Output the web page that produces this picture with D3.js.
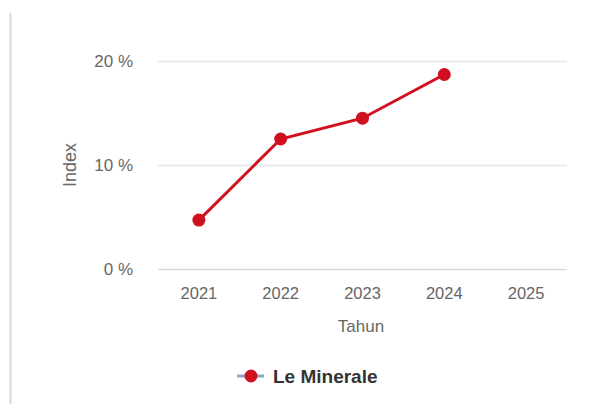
<!DOCTYPE html>
<html>
<head>
<meta charset="utf-8">
<script src="https://cdn.jsdelivr.net/npm/d3@7"></script>
<style>
  body { margin: 0; background: #fff; font-family: "Liberation Sans", Arial, sans-serif; }
</style>
</head>
<body>
<svg id="chart" width="598" height="404"></svg>
<script>
// values
const years = ["2021", "2022", "2023", "2024", "2025"]
const values = [4.7, 12.5, 14.5, 18.7, null]
const yTicks = [0, 10, 20]
const seriesName = "Le Minerale"

const svg = d3.select("#chart")
const red = "#d0101e"

const x = d3.scaleBand().domain(years).range([158, 567])
const y = d3.scaleLinear().domain([0, 20]).range([269, 61])

// left frame line
svg.append("line")
    .attr("x1", 10.5).attr("x2", 10.5)
    .attr("y1", 13).attr("y2", 404)
    .attr("stroke", "#d9d9d9").attr("stroke-width", 2)

// grid
svg.append("g").selectAll("line")
    .data(yTicks)
    .join("line")
    .attr("x1", 158).attr("x2", 567)
    .attr("y1", d => Math.round(y(d)) + 0.5)
    .attr("y2", d => Math.round(y(d)) + 0.5)
    .attr("stroke", d => d === 0 ? "#d5dbe3" : "#e6e6e6")
    .attr("stroke-width", 1.5)

svg.append("g").selectAll("text")
    .data(yTicks)
    .join("text")
    .attr("x", 133)
    .attr("y", d => y(d) + 6)
    .attr("text-anchor", "end")
    .attr("fill", "#666")
    .attr("font-size", 17)
    .text(d => d + " %")

svg.append("g").selectAll("text")
    .data(years)
    .join("text")
    .attr("x", d => x(d) + x.bandwidth() / 2)
    .attr("y", 299)
    .attr("text-anchor", "middle")
    .attr("fill", "#666")
    .attr("font-size", 16.5)
    .text(d => d)

svg.append("text")
    .attr("x", 361).attr("y", 332)
    .attr("text-anchor", "middle")
    .attr("fill", "#666")
    .attr("font-size", 17)
    .text("Tahun")

svg.append("text")
    .attr("transform", "translate(76,165) rotate(-90)")
    .attr("text-anchor", "middle")
    .attr("fill", "#666")
    .attr("font-size", 18)
    .text("Index")

const pts = years.map((yr, i) => ({yr, v: values[i]})).filter(d => d.v != null)

const line = d3.line()
    .x(d => x(d.yr) + x.bandwidth() / 2)
    .y(d => y(d.v))

svg.append("path")
    .datum(pts)
    .attr("d", line)
    .attr("fill", "none")
    .attr("stroke", red)
    .attr("stroke-width", 3)

svg.append("g").selectAll("circle")
    .data(pts)
    .join("circle")
    .attr("cx", d => x(d.yr) + x.bandwidth() / 2)
    .attr("cy", d => y(d.v))
    .attr("r", 6.5)
    .attr("fill", red)

// legend
const lg = svg.append("g").attr("transform", "translate(237,376)")
lg.append("line")
    .attr("x1", 0).attr("x2", 27)
    .attr("stroke", "#8fa5c0").attr("stroke-width", 3)
lg.append("circle").attr("cx", 14).attr("r", 6.5).attr("fill", red)
lg.append("text")
    .attr("x", 36).attr("y", 7)
    .attr("font-size", 19)
    .attr("font-weight", "bold")
    .attr("fill", "#333")
    .text(seriesName)
</script>
</body>
</html>
